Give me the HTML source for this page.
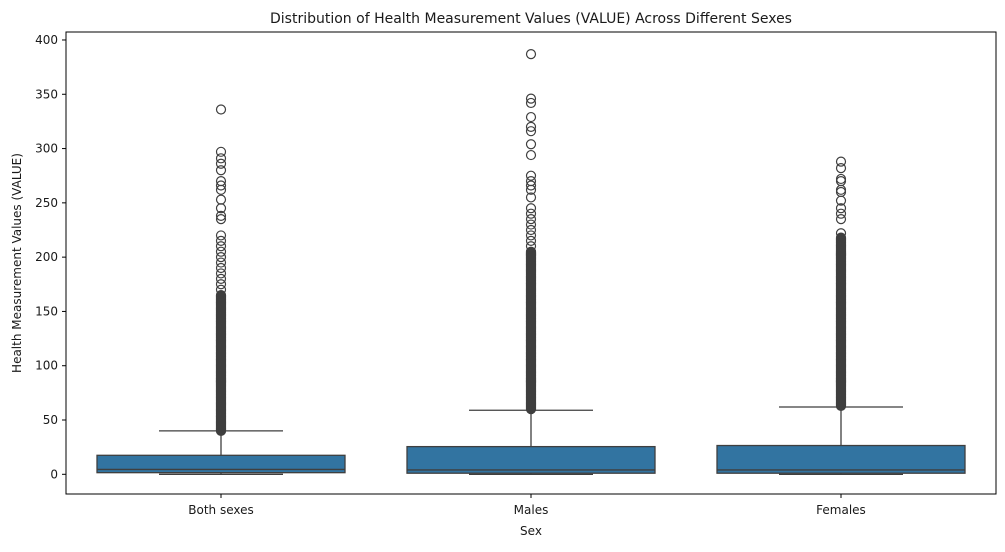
<!DOCTYPE html>
<html><head><meta charset="utf-8"><style>
body{margin:0;background:#fff;font-family:"Liberation Sans","DejaVu Sans",sans-serif}
svg text{font-family:"DejaVu Sans","Liberation Sans",sans-serif;fill:#1a1a1a}
</style></head><body>
<svg id="chart" width="1005" height="547" xmlns="http://www.w3.org/2000/svg">
<text x="531" y="23" font-size="14" text-anchor="middle">Distribution of Health Measurement Values (VALUE) Across Different Sexes</text>
<g id="plot"></g>
<rect x="66" y="32" width="930" height="462" fill="none" stroke="#000" stroke-width="1"/>
<text x="531" y="535" font-size="12" text-anchor="middle">Sex</text>
<text transform="translate(21,263) rotate(-90)" font-size="12" text-anchor="middle">Health Measurement Values (VALUE)</text>
</svg>
<script>
const categories = ["Both sexes","Males","Females"];
const q1 = [1.5, 1, 1];
const medians = [4.5, 4, 4];
const q3 = [17.5, 25.5, 26.5];
const whiskerLow = [0, 0, 0];
const whiskerHigh = [40, 59, 62];
const denseLow = [40, 60, 63];
const denseHigh = [165, 205, 218];
const sparseOutliers = [
  [170,175,180,185,190,195,200,205,210,215,220,235,238,245,253,262,266,270,280,286,291,297,336],
  [210,215,220,225,230,235,240,245,255,262,266,270,275,294,304,316,320,329,342,346,387],
  [222,235,240,245,252,260,262,270,272,282,288]
];
const yTicks = [0,50,100,150,200,250,300,350,400];

const NS="http://www.w3.org/2000/svg";
const svg=document.getElementById('chart'), g=document.getElementById('plot');
const y=v=>474.3-v*1.0858;
const x=i=>221+i*310;
const bw=248;
function mk(t,a){const e=document.createElementNS(NS,t);for(const k in a)e.setAttribute(k,a[k]);return e;}
yTicks.forEach(t=>{
  const l=mk('line',{x1:62,x2:66,y1:y(t),y2:y(t),stroke:'#000'});
  
  
  svg.appendChild(l);
  const tx=mk('text',{x:58,y:y(t)+4,'font-size':12,'text-anchor':'end'});
  tx.textContent=t;
  
  
  svg.appendChild(tx);
});
categories.forEach((c,i)=>{
  const cx=x(i);
  const tk=mk('line',{x1:cx,x2:cx,y1:494,y2:498,stroke:'#000'});
  
  
  svg.appendChild(tk);
  const tx=mk('text',{x:cx,y:514,'font-size':12,'text-anchor':'middle'});
  tx.textContent=c;
  
  
  svg.appendChild(tx);
  const grp=mk('g',{});
  
  
  g.appendChild(grp);
  const st={stroke:'#3f3f3f','stroke-width':1.3};
  grp.appendChild(mk('line',Object.assign({x1:cx,x2:cx,y1:y(q3[i]),y2:y(whiskerHigh[i])},st)));
  grp.appendChild(mk('line',Object.assign({x1:cx,x2:cx,y1:y(q1[i]),y2:y(whiskerLow[i])},st)));
  grp.appendChild(mk('line',Object.assign({x1:cx-bw/4,x2:cx+bw/4,y1:y(whiskerHigh[i]),y2:y(whiskerHigh[i])},st)));
  grp.appendChild(mk('line',Object.assign({x1:cx-bw/4,x2:cx+bw/4,y1:y(whiskerLow[i]),y2:y(whiskerLow[i])},st)));
  grp.appendChild(mk('rect',Object.assign({x:cx-bw/2,y:y(q3[i]),width:bw,height:y(q1[i])-y(q3[i]),fill:'#3274a1'},st)));
  grp.appendChild(mk('line',Object.assign({x1:cx-bw/2,x2:cx+bw/2,y1:y(medians[i]),y2:y(medians[i])},st)));
  const pts=[];
  for(let v=denseLow[i];v<=denseHigh[i];v+=0.5)pts.push(v);
  sparseOutliers[i].forEach(v=>pts.push(v));
  pts.forEach(v=>{
    const p=mk('circle',{cx:cx,cy:y(v),r:4.5,fill:'none',stroke:'#3f3f3f','stroke-width':1.2});
    
    
    grp.appendChild(p);
  });
});
</script>
</body></html>
